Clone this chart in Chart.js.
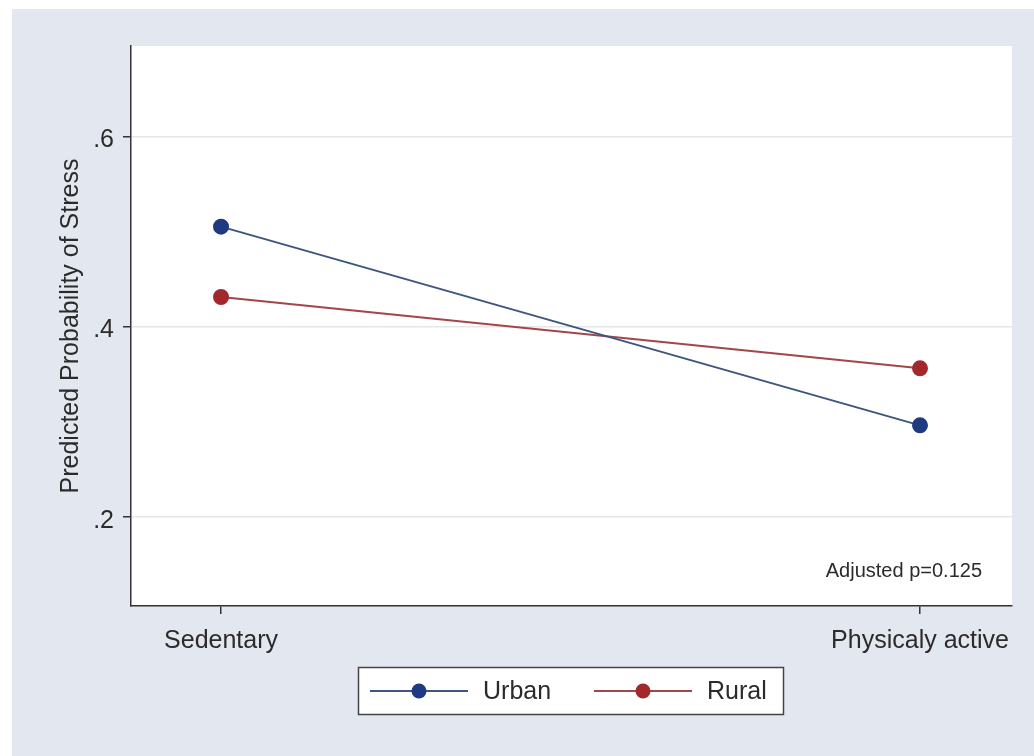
<!DOCTYPE html>
<html>
<head>
<meta charset="utf-8">
<script src="https://cdn.jsdelivr.net/npm/chart.js@4"></script>
<style>
  html, body { margin: 0; padding: 0; background: #ffffff; }
  #wrap { width: 1034px; height: 756px; position: relative; }
</style>
</head>
<body>
<div id="wrap"><canvas id="myChart" width="1034" height="756"></canvas></div>
<script>
// ===================== Data =====================
const categories = ["Sedentary", "Physicaly active"];
const urban = [0.505, 0.296];
const rural = [0.431, 0.356];
const yTicks = [0.2, 0.4, 0.6];
const yTickLabels = [".2", ".4", ".6"];
const seriesNames = ["Urban", "Rural"];
const note = "Adjusted p=0.125";

const FONT = "'Liberation Sans', Arial, sans-serif";
const textColor = "#2b2b2b";
const urbanColor = "#1e3a80";
const urbanLine = "#3f557f";
const ruralColor = "#a3282e";
const ruralLine = "#a2464b";

// ===================== Plugins =====================
const backdrop = {
  id: "backdrop",
  beforeDraw(c) {
    const { ctx, chartArea } = c;
    ctx.save();
    ctx.fillStyle = "#ffffff";
    ctx.fillRect(0, 0, c.width, c.height);
    ctx.fillStyle = "#e3e7ef";
    ctx.fillRect(12, 9, c.width - 12, c.height - 9);
    ctx.fillStyle = "#ffffff";
    ctx.fillRect(chartArea.left, chartArea.top, chartArea.right - chartArea.left, chartArea.bottom - chartArea.top);
    ctx.restore();
  },
};

const extras = {
  id: "extras",
  afterDraw(c) {
    const { ctx, chartArea } = c;
    ctx.save();
    // note inside the plot
    ctx.fillStyle = textColor;
    ctx.font = `20px ${FONT}`;
    ctx.textAlign = "right";
    ctx.textBaseline = "middle";
    ctx.fillText(note, chartArea.right - 30, chartArea.bottom - 35);

    // legend box
    const bx = 358.5, by = 667.5, bw = 425, bh = 47;
    ctx.fillStyle = "#ffffff";
    ctx.fillRect(bx, by, bw, bh);
    ctx.strokeStyle = "#444444";
    ctx.lineWidth = 1.5;
    ctx.strokeRect(bx, by, bw, bh);

    const cy = by + bh / 2;
    const items = [
      { x: 370, line: urbanLine, fill: urbanColor, label: seriesNames[0] },
      { x: 594, line: ruralLine, fill: ruralColor, label: seriesNames[1] },
    ];
    items.forEach((it) => {
      ctx.strokeStyle = it.line;
      ctx.lineWidth = 2;
      ctx.beginPath();
      ctx.moveTo(it.x, cy);
      ctx.lineTo(it.x + 98, cy);
      ctx.stroke();
      ctx.fillStyle = it.fill;
      ctx.beginPath();
      ctx.arc(it.x + 49, cy, 7.5, 0, Math.PI * 2);
      ctx.fill();
      ctx.fillStyle = textColor;
      ctx.font = `25px ${FONT}`;
      ctx.textAlign = "left";
      ctx.textBaseline = "middle";
      ctx.fillText(it.label, it.x + 113, cy + 1);
    });
    ctx.restore();
  },
};

// ===================== Chart =====================
const toPoints = (arr) => arr.map((v, i) => ({ x: i, y: v }));

new Chart(document.getElementById("myChart"), {
  type: "line",
  data: {
    datasets: [
      {
        label: seriesNames[0],
        data: toPoints(urban),
        borderColor: urbanLine,
        backgroundColor: urbanColor,
        pointBackgroundColor: urbanColor,
        pointBorderColor: urbanColor,
        pointRadius: 7,
        borderWidth: 2,
      },
      {
        label: seriesNames[1],
        data: toPoints(rural),
        borderColor: ruralLine,
        backgroundColor: ruralColor,
        pointBackgroundColor: ruralColor,
        pointBorderColor: ruralColor,
        pointRadius: 7,
        borderWidth: 2,
      },
    ],
  },
  options: {
    responsive: false,
    animation: false,
    devicePixelRatio: 1,
    layout: { padding: { top: 46, right: 22, bottom: 0, left: 0 } },
    plugins: { legend: { display: false }, tooltip: { enabled: false } },
    scales: {
      x: {
        type: "linear",
        min: -0.1288,
        max: 1.1316,
        afterFit: (s) => { s.height = 150; },
        afterBuildTicks: (s) => { s.ticks = categories.map((_, i) => ({ value: i })); },
        border: { color: "#333333", width: 1.5 },
        grid: { drawOnChartArea: false, drawTicks: true, tickLength: 8, color: "#333333", lineWidth: 1.5 },
        ticks: {
          callback: (v) => categories[v],
          color: textColor,
          font: { family: FONT, size: 25 },
          padding: 12,
          maxRotation: 0,
        },
      },
      y: {
        min: 0.106,
        max: 0.695,
        afterFit: (s) => { s.width = 131; },
        afterBuildTicks: (s) => { s.ticks = yTicks.map((v) => ({ value: v })); },
        border: { color: "#333333", width: 1.5 },
        grid: {
          color: "#e6e6e6",
          lineWidth: 1.5,
          drawTicks: true,
          tickLength: 8,
          tickColor: "#333333",
          tickWidth: 1.5,
        },
        ticks: {
          callback: (v) => yTickLabels[yTicks.indexOf(v)],
          color: textColor,
          font: { family: FONT, size: 25 },
          padding: 9,
          labelOffset: 4,
        },
        title: {
          display: true,
          text: "Predicted Probability of Stress",
          color: textColor,
          font: { family: FONT, size: 25 },
          padding: { top: 56, bottom: 0 },
        },
      },
    },
  },
  plugins: [backdrop, extras],
});
</script>
</body>
</html>
